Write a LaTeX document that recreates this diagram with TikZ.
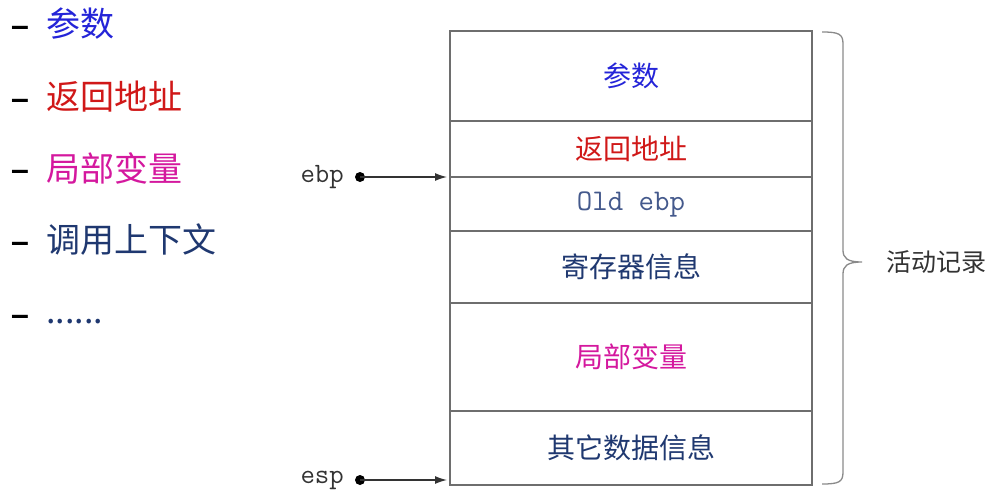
\documentclass[tikz,border=0pt]{standalone}
\usepackage{fontspec}
\newfontfamily\cjk{Noto Sans CJK SC}
\newfontfamily\dashf{Liberation Sans}
\usetikzlibrary{arrows.meta}
\definecolor{cblue}{HTML}{2424D8}
\definecolor{cred}{HTML}{D01818}
\definecolor{cmag}{HTML}{D4189E}
\definecolor{cnavy}{HTML}{1F3870}
\definecolor{cslate}{HTML}{44598C}
\definecolor{cline}{HTML}{6E6E6E}
\definecolor{cbrace}{HTML}{8A8A8A}
\definecolor{ctext}{HTML}{333333}
\tikzset{
  cell/.style={draw=cline, line width=1.2pt, minimum width=362pt, inner sep=0pt, outer sep=0pt, font=\cjk\fontsize{28}{30}\selectfont},
  listitem/.style={anchor=west, inner sep=0pt, font=\cjk\fontsize{34}{38}\selectfont},
  dashitem/.style={inner sep=0pt, font=\dashf\bfseries\fontsize{32}{36}\selectfont},
  reglabel/.style={anchor=east, inner sep=0pt, text=ctext, font=\ttfamily\fontsize{28}{30}\selectfont},
  pdot/.style={circle, fill=black, inner sep=0pt, minimum size=10pt},
  ptr/.style={draw=black!80, line width=1.3pt, -{Latex[length=12pt,width=8pt]}},
}
\begin{document}
\begin{tikzpicture}[x=1pt,y=-1pt]
\useasboundingbox (0,0) rectangle (991,490);
% left list
\node[dashitem] (d1) at (20,31) {–};
\node[listitem, text=cblue] (l1) at (46,24) {参数};
\node[dashitem] (d2) at (20,104) {–};
\node[listitem, text=cred] (l2) at (46,97) {返回地址};
\node[dashitem] (d3) at (20,175) {–};
\node[listitem, text=cmag] (l3) at (46,168) {局部变量};
\node[dashitem] (d4) at (20,247) {–};
\node[listitem, text=cnavy] (l4) at (46,240) {调用上下文};
\node[dashitem] (d5) at (20,320) {–};
\node[listitem, text=cnavy] (l5) at (46,322) {......};
% stack cells
\node[cell, minimum height=90pt, text=cblue] (c1) at (631,76) {参数};
\node[cell, minimum height=56pt, text=cred] (c2) at (631,149) {返回地址};
\node[cell, minimum height=54pt, text=cslate, font=\ttfamily\fontsize{30}{32}\selectfont] (c3) at (631,204) {Old ebp};
\node[cell, minimum height=72pt, text=cnavy] (c4) at (631,267) {寄存器信息};
\node[cell, minimum height=108pt, text=cmag] (c5) at (631,357) {局部变量};
\node[cell, minimum height=74pt, text=cnavy] (c6) at (631,448) {其它数据信息};
% pointers
\node[reglabel] (ebp) at (344,177) {ebp};
\node[pdot] (ebpdot) at (360,177) {};
\draw[ptr] (ebpdot.center) -- ([xshift=-3pt]c3.north west);
\node[reglabel] (esp) at (344,480) {esp};
\node[pdot] (espdot) at (360,480) {};
\coordinate (espend) at (447,480);
\draw[ptr] (espdot.center) -- (espend);
% brace
\draw[cbrace, line width=1.3pt] (822,32) .. controls (839,32) and (843,34) .. (843,44)
  -- (843,250) .. controls (843,258) and (847,262) .. (862,262)
  .. controls (847,262) and (843,266) .. (843,274)
  -- (843,472) .. controls (843,482) and (839,484) .. (822,484);
\node[anchor=west, inner sep=0pt, text=ctext, font=\cjk\fontsize{25}{27}\selectfont] (ar) at (886,262) {活动记录};
\end{tikzpicture}
\end{document}
